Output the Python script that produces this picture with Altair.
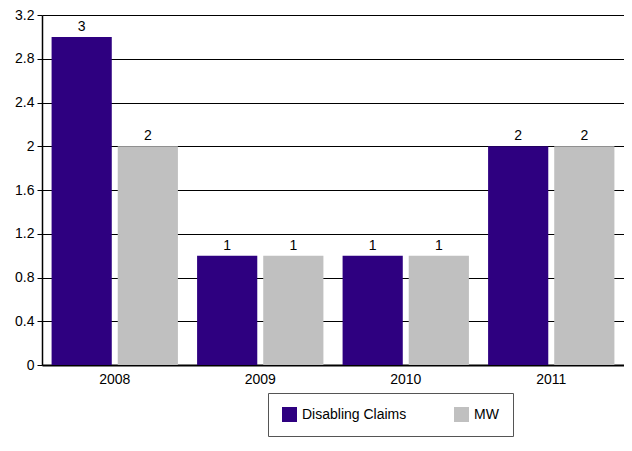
import altair as alt
import pandas as pd

years = ["2008", "2009", "2010", "2011"]
series = ["Disabling Claims", "MW"]
disabling_claims = [3, 1, 1, 2]
mw = [2, 1, 1, 2]
colors = ["#2e0080", "#c0c0c0"]
y_ticks = [0, 0.4, 0.8, 1.2, 1.6, 2.0, 2.4, 2.8, 3.2]

rows = []
for i, y in enumerate(years):
    rows.append({"year": y, "series": series[0], "value": disabling_claims[i]})
    rows.append({"year": y, "series": series[1], "value": mw[i]})
df = pd.DataFrame(rows)

FONT = "Liberation Sans"

base = alt.Chart(df).encode(
    x=alt.X("year:N", sort=years,
            scale=alt.Scale(paddingInner=0, paddingOuter=0),
            axis=alt.Axis(title=None, labelAngle=0, ticks=False, domainColor="black",
                          domainWidth=2, labelPadding=7, labelFontSize=14,
                          labelColor="black", labelFont=FONT)),
    xOffset=alt.XOffset("series:N", sort=series,
                        scale=alt.Scale(paddingInner=0.09, paddingOuter=0.145)),
    y=alt.Y("value:Q",
            scale=alt.Scale(domain=[0, 3.2], nice=False, zero=True),
            axis=alt.Axis(title=None, values=y_ticks, format=".1~f", grid=True,
                          gridColor="black", gridOpacity=1, gridWidth=1,
                          domainColor="black", domainWidth=1.5, tickColor="black",
                          tickSize=5, labelPadding=3, labelFontSize=14,
                          labelColor="black", labelFont=FONT)),
    color=alt.Color("series:N", sort=series,
                    scale=alt.Scale(domain=series, range=colors),
                    legend=alt.Legend(
                        title=None, orient="none", legendX=226, legendY=378,
                        direction="horizontal", strokeColor="#555555",
                        fillColor="white", padding=14, symbolType="square",
                        symbolSize=225, symbolStrokeWidth=0, symbolOpacity=1,
                        labelFontSize=14, labelFont=FONT, labelColor="black",
                        labelOffset=5, columnPadding=47)),
)

bars = base.mark_bar()
labels = base.mark_text(baseline="bottom", dy=-3, fontSize=14, font=FONT).encode(
    text=alt.Text("value:Q"), color=alt.value("black"))

chart = (bars + labels).properties(
    width=582, height=350,
    autosize=alt.AutoSizeParams(type="none"),
    padding={"left": 34, "top": 7, "right": 0, "bottom": 72},
    background="white",
).configure_view(stroke=None)

chart.save("out.html", embed_options={"renderer": "svg", "actions": False})
